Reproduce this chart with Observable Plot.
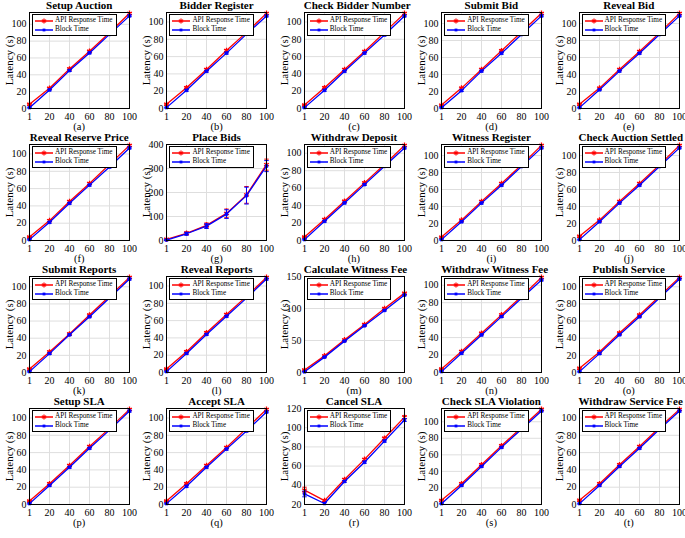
<!DOCTYPE html>
<html><head><meta charset="utf-8">
<script src="https://cdn.jsdelivr.net/npm/d3@7"></script>
<script src="https://cdn.jsdelivr.net/npm/@observablehq/plot@0.6"></script>
<style>
body{margin:0;background:#fff;font-family:"Liberation Serif","Times New Roman",serif;}
#grid{display:grid;grid-template-columns:repeat(5,137.4px);grid-auto-rows:132px;width:685px;padding-left:1px}
.cell{position:relative;width:137.4px;height:132px}
.title{height:10px;line-height:10px;font-size:11px;font-weight:bold;text-align:center;padding-left:28px;padding-right:9px;white-space:nowrap;color:#000}
.cap{height:10px;line-height:10px;font-size:10.5px;text-align:center;padding-left:28px;padding-right:9px;color:#000}
.cell svg.plot{display:block;overflow:visible}
.legend{position:absolute;left:31px;top:14px;height:19px;border:1px solid #000;background:#fff;font-size:7.2px;line-height:9px;padding:1px 3px 0 0;white-space:nowrap}
.legend div{display:flex;align-items:center;height:9px}
.legend svg{margin-left:2px;margin-right:2px}
</style></head>
<body><div id="grid"></div>
<script>
const xLabels = ["1","20","40","60","80","100"];
const titles = ["Setup Auction","Bidder Register","Check Bidder Number","Submit Bid","Reveal Bid",
  "Reveal Reserve Price","Place Bids","Withdraw Deposit","Witness Register","Check Auction Settled",
  "Submit Reports","Reveal Reports","Calculate Witness Fee","Withdraw Witness Fee","Publish Service",
  "Setup SLA","Accept SLA","Cancel SLA","Check SLA Violation","Withdraw Service Fee"];
const letters = ["a","b","c","d","e","f","g","h","i","j","k","l","m","n","o","p","q","r","s","t"];
const seriesNames = ["API Response Time","Block Time"];
const apiResponse = [
  [5,24,47,68,90,113],[5,24,45,67,88,110],[4,24,45,66,88,110],[4,24,46,68,90,112],[5,24,46,67,89,112],
  [4,23,45,66,88,110],[5,30,63,113,190,316],[4,24,45,66,87,109],[4,24,46,67,89,112],[5,24,46,67,89,112],
  [4,24,45,67,89,111],[4,24,46,67,88,110],[4,26,51,75,100,124],[4,24,45,66,87,109],[5,24,46,67,89,111],
  [4,24,45,67,88,110],[4,24,45,66,88,110],[35,24,46,67,89,111],[5,25,48,71,93,115],[5,24,46,67,89,110]];
const blockTime = [
  [1,22,45,66,88,110],[1,21,43,64,86,107],[1,21,43,64,85,107],[1,21,44,65,87,109],[1,22,44,65,87,109],
  [1,21,43,64,85,107],[2,28,60,110,187,310],[1,22,43,64,85,106],[1,22,44,65,87,109],[1,22,44,65,87,109],
  [1,22,44,65,87,109],[1,22,44,65,86,108],[1,24,49,73,97,121],[1,22,43,64,85,106],[1,22,44,65,87,109],
  [1,22,43,65,86,108],[1,21,43,64,85,107],[31,21,44,64,86,108],[1,23,46,69,91,113],[1,22,44,65,87,108]];
const apiError = [
  [0.5,1,1,1,1,1],[0.5,1,1,1,1,1],[0.5,1,1,1,1,1],[0.5,1,1,1,1,1],[0.5,1,1,1,1,1],
  [0.5,1,1,1,1,1],[2,6,10,18,35,23],[0.5,1,1,1,1,1],[0.5,1,1,1,1,1],[0.5,1,1,1,1,1],
  [0.5,1,1,1,1,1],[0.5,1,1,1,1,1],[0.5,1,1,1,1,1],[0.5,1,1,1,1,1],[0.5,1,1,1,1,1],
  [0.5,1,1,1,1,1],[0.5,1,1,1,1,1],[3,1,1,1,1,1.5],[0.5,1,1,1,1,1],[0.5,1,1,1,1,1]];
const blockError = [
  [0.5,1,1,1,1,1],[0.5,1,1,1,1,1],[0.5,1,1,1,1,1],[0.5,1,1,1,1,1],[0.5,1,1,1,1,1],
  [0.5,1,1,1,1,1],[2,6,10,18,35,23],[0.5,1,1,1,1,1],[0.5,1,1,1,1,1],[0.5,1,1,1,1,1],
  [0.5,1,1,1,1,1],[0.5,1,1,1,1,1],[0.5,1,1,1,1,1],[0.5,1,1,1,1,1],[0.5,1,1,1,1,1],
  [0.5,1,1,1,1,1],[0.5,1,1,1,1,1],[3,1,1,1,1,1.5],[0.5,1,1,1,1,1],[0.5,1,1,1,1,1]];
const yMin = [0,0,0,0,0, 0,0,0,0,0, 0,0,0,0,0, 0,0,20,0,0];
const yMax = [114,111,111,113,113, 111,400,110,113,113, 112,111,150,110,112, 111,111,120,116,111];
const ticksStd = [0,20,40,60,80,100];
const ticksBids = [0,100,200,300,400];
const ticksFee = [0,50,100,150];
const ticksCancel = [20,40,60,80,100,120];

const capSymbol = {draw(ctx, size){const w = Math.sqrt(size)/2; ctx.moveTo(-w,0); ctx.lineTo(w,0);}};
const colors = ["#ff0000","#0000ff"];

const grid = document.getElementById("grid");
titles.forEach((t, i) => {
  const yTicks = i === 6 ? ticksBids : i === 12 ? ticksFee : i === 17 ? ticksCancel : ticksStd;
  const rows = [];
  xLabels.forEach((x, j) => {
    rows.push({x, y: apiResponse[i][j], e: apiError[i][j], s: seriesNames[0]});
  });
  xLabels.forEach((x, j) => {
    rows.push({x, y: blockTime[i][j], e: blockError[i][j], s: seriesNames[1]});
  });
  const marks = [
    Plot.gridX(xLabels, {stroke: "#dedede", strokeOpacity: 1}),
    Plot.gridY(yTicks, {stroke: "#dedede", strokeOpacity: 1}),
    Plot.axisX(xLabels, {tickSize: 0, tickPadding: 4, fontSize: 10, label: null}),
    Plot.axisY(yTicks, {tickSize: 0, tickPadding: 3, fontSize: 10, label: null}),
    Plot.axisY([], {tickSize: 0, fontSize: 11, label: "Latency (s)", labelAnchor: "center", labelOffset: 24, labelArrow: "none"})
  ];
  seriesNames.forEach((name, k) => {
    const d = rows.filter(r => r.s === name);
    marks.push(
      Plot.ruleX(d, {x: "x", y1: r => r.y - r.e, y2: r => r.y + r.e, stroke: colors[k], strokeWidth: 1}),
      Plot.dot(d, {x: "x", y: r => r.y - r.e, symbol: capSymbol, r: 2.5, stroke: colors[k], strokeWidth: 1}),
      Plot.dot(d, {x: "x", y: r => r.y + r.e, symbol: capSymbol, r: 2.5, stroke: colors[k], strokeWidth: 1}),
      Plot.line(d, {x: "x", y: "y", stroke: colors[k], strokeWidth: 1.3}),
      k === 0
        ? Plot.dot(d, {x: "x", y: "y", symbol: "asterisk", r: 2.6, stroke: colors[k], strokeWidth: 1.3})
        : Plot.dot(d, {x: "x", y: "y", symbol: "square", r: 1.6, fill: colors[k], stroke: colors[k], strokeWidth: 0.5})
    );
  });
  marks.push(Plot.frame({stroke: "#000", strokeWidth: 1}));
  const svg = Plot.plot({
    width: 137.4, height: 112,
    marginTop: 2, marginBottom: 14, marginLeft: 28, marginRight: 9.4,
    style: {fontFamily: '"Liberation Serif","Times New Roman",serif', fontSize: "10px", background: "transparent", color: "#000", overflow: "visible"},
    x: {type: "point", domain: xLabels, padding: 0},
    y: {domain: [yMin[i], yMax[i]]},
    marks
  });
  svg.classList.add("plot");
  const cell = document.createElement("div");
  cell.className = "cell";
  const title = document.createElement("div");
  title.className = "title"; title.textContent = t;
  const cap = document.createElement("div");
  cap.className = "cap"; cap.textContent = "(" + letters[i] + ")";
  const legend = document.createElement("div");
  legend.className = "legend";
  seriesNames.forEach((name, k) => {
    const row = document.createElement("div");
    const marker = k === 0
      ? `<path d="M9,1.5V6.5M6.8,2.7L11.2,5.3M6.8,5.3L11.2,2.7" stroke="${colors[k]}" stroke-width="1.2"/>`
      : `<rect x="7.6" y="2.6" width="2.8" height="2.8" fill="${colors[k]}"/>`;
    row.innerHTML = `<svg width="18" height="8"><line x1="0" y1="4" x2="18" y2="4" stroke="${colors[k]}" stroke-width="1.5"/>${marker}</svg><span>${name}</span>`;
    legend.appendChild(row);
  });
  cell.appendChild(title);
  cell.appendChild(svg);
  cell.appendChild(cap);
  cell.appendChild(legend);
  grid.appendChild(cell);
});
</script>
</body></html>
